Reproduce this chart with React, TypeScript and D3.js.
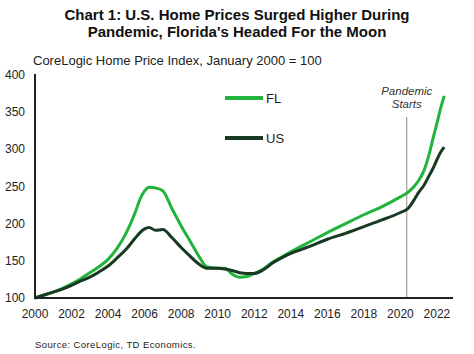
import * as d3 from "d3"

// decimal year of each observation
const dates = [
  2000, 2000.5, 2001, 2001.5, 2002, 2002.5, 2003, 2003.5, 2004, 2004.5, 2005, 2005.5, 2005.75, 2006,
  2006.25, 2006.6, 2007, 2007.5, 2008, 2008.5, 2009, 2009.4, 2010, 2010.4, 2010.8, 2011.2, 2011.6, 2012,
  2012.5, 2013, 2013.5, 2014, 2015, 2016, 2017, 2018, 2019, 2020, 2020.4, 2020.75, 2021, 2021.3, 2021.6,
  2021.8, 2022, 2022.2, 2022.4,
]
const flValues = [
  100, 104, 108, 113, 119, 126, 134, 142, 152, 167, 188, 216, 233, 244, 249, 248, 244, 220, 197, 176, 155,
  142, 140, 140, 132, 128, 129, 133, 139, 148, 155, 162, 175, 188, 200, 212, 223, 236, 242, 250, 258, 272,
  296, 316, 335, 355, 372,
]
const usValues = [
  100, 104, 108, 112, 117, 123, 128, 135, 143, 154, 166, 181, 188, 193, 195, 191, 192, 181, 168, 156, 145,
  140, 140, 139, 137, 134, 133, 133, 138, 147, 154, 160, 169, 179, 187, 196, 205, 215, 220, 232, 242, 252,
  266, 275, 286, 296, 303,
]
const xTicks = [2000, 2002, 2004, 2006, 2008, 2010, 2012, 2014, 2016, 2018, 2020, 2022]
const yTicks = [100, 150, 200, 250, 300, 350, 400]
const pandemicDate = 2020.35

const FL_COLOR = "#21b33b"
const US_COLOR = "#173a22"
const FONT = "'Liberation Sans', Arial, sans-serif"

export default function App() {
  document.body.style.margin = "0"

  const x = d3.scaleLinear().domain([2000, 2022.88]).range([35, 453])
  const y = d3.scaleLinear().domain([100, 400]).range([298, 75])

  const line = d3
    .line<number>()
    .x((_, i) => x(dates[i]))
    .y((d) => y(d))
    .curve(d3.curveMonotoneX)

  return (
    <svg width={474} height={354} style={{ display: "block", fontFamily: FONT }}>
      <rect width={474} height={354} fill="#fff" />

      {/* title */}
      <text x={237} y={20} textAnchor="middle" fontSize={15} fontWeight="bold" fill="#111">
        Chart 1: U.S. Home Prices Surged Higher During
      </text>
      <text x={237} y={37} textAnchor="middle" fontSize={15} fontWeight="bold" fill="#111">
        Pandemic, Florida's Headed For the Moon
      </text>
      <text x={33} y={65} fontSize={13} fill="#222">
        CoreLogic Home Price Index, January 2000 = 100
      </text>

      {/* y labels */}
      {yTicks.map((t) => (
        <text key={t} x={25} y={y(t) + 4} textAnchor="end" fontSize={12} fill="#222">
          {t}
        </text>
      ))}
      {/* x labels */}
      {xTicks.map((t) => (
        <text key={t} x={x(t)} y={318} textAnchor="middle" fontSize={12} fill="#222">
          {t}
        </text>
      ))}

      {/* pandemic marker */}
      <line x1={x(pandemicDate)} x2={x(pandemicDate)} y1={117} y2={298} stroke="#8a8a8a" strokeWidth={1} />
      <text x={x(pandemicDate)} y={95} textAnchor="middle" fontSize={11.5} fontStyle="italic" fill="#333">
        Pandemic
      </text>
      <text x={x(pandemicDate)} y={108} textAnchor="middle" fontSize={11.5} fontStyle="italic" fill="#333">
        Starts
      </text>

      {/* series */}
      <path d={line(flValues) ?? ""} fill="none" stroke={FL_COLOR} strokeWidth={3} strokeLinejoin="round" />
      <path d={line(usValues) ?? ""} fill="none" stroke={US_COLOR} strokeWidth={3} strokeLinejoin="round" />

      {/* axes */}
      <line x1={35} x2={35} y1={74} y2={299} stroke="#222" strokeWidth={2} />
      <line x1={34} x2={453} y1={298} y2={298} stroke="#222" strokeWidth={2} />

      {/* legend */}
      <line x1={225} x2={263} y1={98} y2={98} stroke={FL_COLOR} strokeWidth={4} />
      <text x={266} y={103} fontSize={13} fill="#222">FL</text>
      <line x1={225} x2={263} y1={138} y2={138} stroke={US_COLOR} strokeWidth={4} />
      <text x={266} y={143} fontSize={13} fill="#222">US</text>

      {/* source */}
      <text x={35} y={348} fontSize={9.5} fill="#222" letterSpacing={0.4}>
        Source: CoreLogic, TD Economics.
      </text>
    </svg>
  )
}
